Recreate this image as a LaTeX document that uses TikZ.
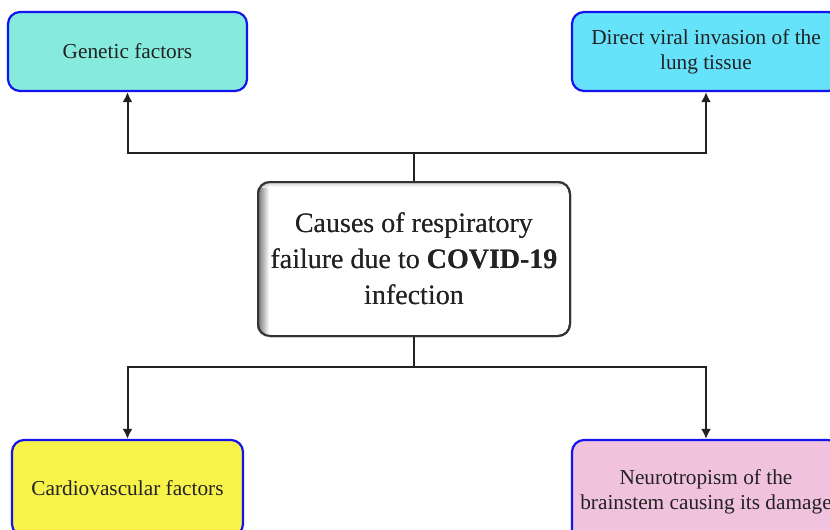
\documentclass[tikz,border=0pt]{standalone}
\usepackage{fontspec}
\setmainfont{Liberation Serif}
\usetikzlibrary{arrows.meta,calc}
\definecolor{genfill}{HTML}{86EBDD}
\definecolor{virfill}{HTML}{66E2FA}
\definecolor{cardfill}{HTML}{F8F34B}
\definecolor{neurfill}{HTML}{F0C2DE}
\definecolor{boxblue}{HTML}{1414EE}
\definecolor{ink}{HTML}{222222}
\definecolor{cborder}{HTML}{333333}
\tikzset{
  leaf/.style={draw=boxblue, line width=2.2pt, rounded corners=12pt, align=center,
    inner sep=0pt, text=ink, font=\fontsize{21.3}{25}\selectfont},
  hub/.style={draw=cborder, line width=2pt, rounded corners=12pt, align=center,
    inner sep=0pt, text=ink, fill=white, font=\fontsize{28}{36}\selectfont},
  arr/.style={draw=ink, line width=2pt, -{Latex[length=10pt,width=10pt]}},
  link/.style={draw=ink, line width=2pt}
}
\begin{document}
\begin{tikzpicture}[x=1pt,y=-1pt]
\useasboundingbox (0,0) rectangle (830,530);
\fill[white] (0,0) rectangle (830,530);
\node[leaf, fill=genfill, minimum width=239pt, minimum height=79pt] (gen) at (127.5,51.5) {Genetic factors};
\node[leaf, fill=virfill, minimum width=268pt, minimum height=79pt] (vir) at (706,51.5) {Direct viral invasion of the\\lung tissue};
\node[leaf, fill=cardfill, minimum width=231pt, minimum height=96pt] (card) at (127.5,488) {Cardiovascular factors};
\node[leaf, fill=neurfill, minimum width=268pt, minimum height=104pt] (neur) at (706,492) {Neurotropism of the\\brainstem causing its damage};
\node[hub, minimum width=312pt, minimum height=154pt] (hub) at (414,259) {Causes of respiratory\\failure due to \textbf{COVID-19}\\infection};
% inner shadow on left side of hub
\begin{scope}
  \clip[rounded corners=12pt] (hub.south west) rectangle (hub.north east);
  \shade[left color=black!60, right color=white] ($(hub.north west)+(0,0)$) rectangle ($(hub.south west)+(12,0)$);
  \shade[top color=black!35, bottom color=white, opacity=0.6] ($(hub.north west)$) rectangle ($(hub.north east)+(0,6)$);
\end{scope}
\node[hub, fill=none, minimum width=312pt, minimum height=154pt] at (hub) {Causes of respiratory\\failure due to \textbf{COVID-19}\\infection};
\coordinate (jt) at (414,153);
\coordinate (jb) at (414,367);
\draw[link] (hub.north) -- (jt);
\draw[arr] (jt) -| (gen.south);
\draw[arr] (jt) -| (vir.south);
\draw[link] (hub.south) -- (jb);
\draw[arr] (jb) -| (card.north);
\draw[arr] (jb) -| (neur.north);
\end{tikzpicture}
\end{document}
